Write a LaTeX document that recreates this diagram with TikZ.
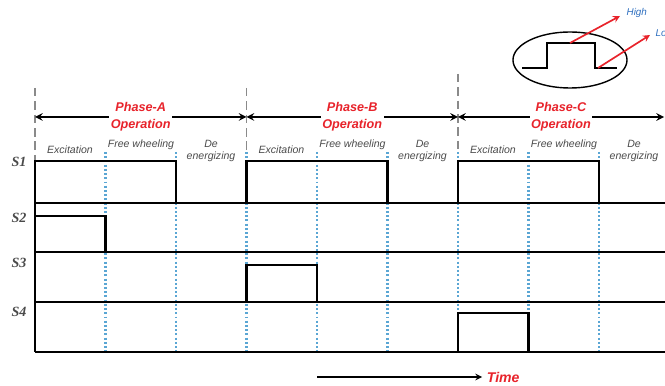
\documentclass[tikz,border=0pt]{standalone}
\usepackage{fontspec}
\setmainfont{Liberation Serif}
\setsansfont{Liberation Sans}
\usetikzlibrary{positioning,shapes.geometric}
\definecolor{phasered}{HTML}{E8232B}
\definecolor{dotblue}{HTML}{5AA6D4}
\definecolor{levelblue}{HTML}{2E6FBF}
\definecolor{dashgray}{HTML}{8A8A8A}
\definecolor{textgray}{HTML}{4A4A4A}

\begin{document}
\begin{tikzpicture}[
  x=0.025cm, y=-0.025cm,
  signal/.style={line width=2.1pt, line join=miter},
  axis/.style={line width=1.1pt},
  tick/.style={dotblue, line width=1.6pt, dash pattern=on 1.4pt off 1.6pt},
  bound/.style={dashgray, line width=1.3pt, dash pattern=on 6pt off 3.5pt},
  span/.style={<->, >=stealth, line width=1.4pt},
  phase/.style={font=\sffamily\bfseries\itshape\fontsize{9}{12}\selectfont, text=phasered, align=center, fill=white, inner sep=1pt},
  stage/.style={font=\sffamily\itshape\fontsize{7.5}{8.5}\selectfont, text=textgray, align=center},
  chan/.style={font=\bfseries\itshape\fontsize{10}{12}\selectfont, text=textgray},
  level/.style={font=\sffamily\itshape\fontsize{7}{8}\selectfont, text=levelblue, anchor=west, inner sep=1pt},
  pointer/.style={->, >=stealth, draw=phasered, line width=1.2pt}
]
\useasboundingbox (0,0) rectangle (665,386);

% time slots
\foreach \x in {105.5,176,246.5,317,387.5,458,528.5,599}
  \draw[tick] (\x,152) -- (\x,352);

% phase boundaries
\draw[bound] (35,88) -- (35,160);
\draw[bound] (246.5,88) -- (246.5,150);
\draw[bound] (458,74) -- (458,150);

\coordinate (pa) at (35,117);
\coordinate (pb) at (246.5,117);
\coordinate (pc) at (458,117);
\coordinate (pend) at (664,117);
\draw[span] (pa) -- (pb) node[phase, midway] (opA) {Phase-A\\Operation};
\draw[span] (pb) -- (pc) node[phase, midway] (opB) {Phase-B\\Operation};
\draw[span] (pc) -- (pend) node[phase, midway] (opC) {Phase-C\\Operation};

% stages of each phase
\foreach \o [count=\i] in {0,211.5,423} {
  \node[stage] (exc\i) at (70+\o,150) {Excitation};
  \node[stage] (fw\i) at (141+\o,145) {Free wheeling};
  \node[stage] (de\i) at (211+\o,151) {De\\energizing};
}

% channels
\foreach \y in {203,252,302,352}
  \draw[axis] (35,\y) -- (665,\y);
\draw[axis] (35,161) -- (35,352);

\node[chan] (s1) at (19,162) {S1};
\node[chan] (s2) at (19,218) {S2};
\node[chan] (s3) at (19,263) {S3};
\node[chan] (s4) at (19,312) {S4};

% gate signals
\foreach \x in {35,246.5,458}
  \draw[signal] (\x,203) -- (\x,161) -- ++(141,0) -- ++(0,42);
\draw[signal] (35,252) -- (35,216) -- (105.5,216) -- (105.5,252);
\draw[signal] (246.5,302) -- (246.5,265) -- (317,265) -- (317,302);
\draw[signal] (458,352) -- (458,313) -- (528.5,313) -- (528.5,352);

% legend
\node[draw, ellipse, line width=1pt, minimum width=2.85cm, minimum height=1.4cm] (legend) at (570,60) {};
\draw[line width=1.2pt] (522,68) -- (547,68) -- (547,43) -- (595,43) -- (595,68) -- (617,68);
\coordinate (hiedge) at (570,43);
\coordinate (loedge) at (598,68);
\node[level] (high) at (625,13) {High};
\node[level] (low) at (654,33) {Low};
\draw[pointer] (hiedge) -- (620,16);
\draw[pointer] (loedge) -- (650,35);

% time axis
\coordinate (tstart) at (317,377);
\node[font=\sffamily\bfseries\itshape\fontsize{10}{12}\selectfont, text=phasered, anchor=west] (time) at (482,377) {Time};
\draw[->, >=stealth, line width=1.1pt] (tstart) -- (time.west);
\end{tikzpicture}
\end{document}
